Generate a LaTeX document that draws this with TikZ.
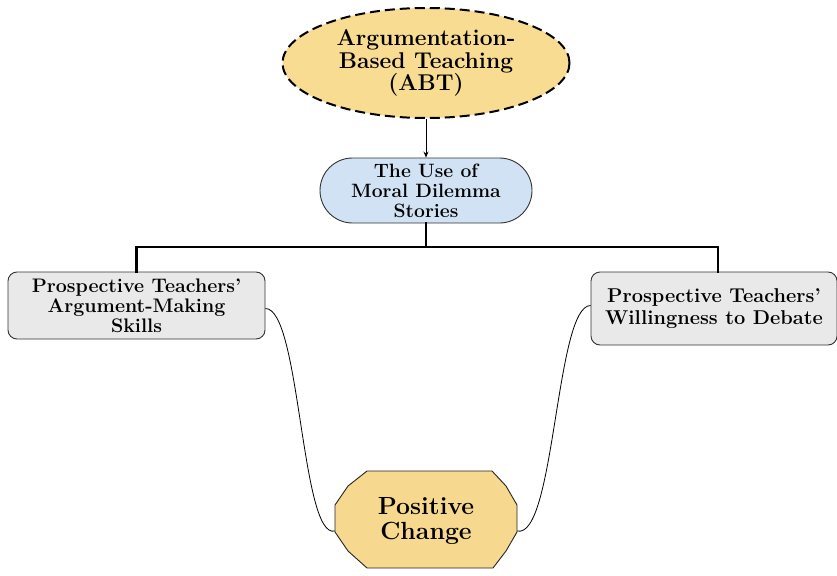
\documentclass[tikz,border=0pt]{standalone}
\usepackage{fontspec}
\usetikzlibrary{shapes.geometric,shapes.misc,arrows.meta}
\definecolor{abtfill}{HTML}{F8DC92}
\definecolor{pcfill}{HTML}{F6D88E}
\definecolor{pillfill}{HTML}{D0E2F3}
\definecolor{boxfill}{HTML}{E9E9E9}
\tikzset{
  txt/.style={align=center,text=black,inner sep=0pt},
  greybox/.style={rectangle,rounded corners=9pt,draw=black!80,line width=0.9pt,fill=boxfill,txt},
  trunk/.style={line width=2.6pt,line cap=rect},
  thin/.style={line width=0.8pt}
}
\begin{document}
\begin{tikzpicture}[x=1pt,y=-1pt]
\useasboundingbox[fill=white] (0,0) rectangle (837,575);
\node[ellipse,draw=black,fill=abtfill,line width=2pt,dash pattern=on 10pt off 5pt,
  minimum width=287pt,minimum height=110pt,txt,
  font=\fontsize{22.8}{22.5}\selectfont\bfseries] (abt) at (426,63)
  {Argumentation-\\Based Teaching\\(ABT)};
\node[rounded rectangle,draw=black!80,line width=0.9pt,fill=pillfill,
  minimum width=212pt,minimum height=65pt,txt,
  font=\fontsize{19.3}{20}\selectfont\bfseries] (moral) at (426,190.5)
  {The Use of\\Moral Dilemma\\Stories};
\node[greybox,minimum width=257pt,minimum height=67pt,
  font=\fontsize{19.6}{20}\selectfont\bfseries] (left) at (136.5,305.5)
  {Prospective Teachers'\\Argument-Making\\Skills};
\node[greybox,minimum width=246pt,minimum height=73pt,
  font=\fontsize{20}{22}\selectfont\bfseries] (right) at (714,308.5)
  {Prospective Teachers'\\Willingness to Debate};
\filldraw[draw=black!85,fill=pcfill,line width=0.9pt]
  (367,471) -- (492,471) -- (506,486) -- (517,505) -- (517,532) -- (506,551) -- (493,568)
  -- (367,568) -- (348,551) -- (335,532) -- (335,505) -- (348,486) -- cycle;
\node[txt,minimum width=182pt,minimum height=97pt,
  font=\fontsize{24.8}{25}\selectfont\bfseries] (pc) at (426,521)
  {Positive\\Change};
\coordinate (pl) at (335,531);
\coordinate (pr) at (517,531);
\draw[thin,-{Stealth[length=6pt,width=5pt]}] (abt.south) -- (moral.north);
\coordinate (bar) at (426,247);
\draw[trunk] (moral.south) -- (bar);
\draw[trunk] (left.north) |- (bar) -| ([xshift=4pt]right.north);
\draw[thin] ([yshift=-3pt]left.east) .. controls +(35,0) and +(-34,9) .. (pl);
\draw[thin] ([yshift=3pt]right.west) .. controls +(-35,0) and +(38,9) .. (pr);
\end{tikzpicture}
\end{document}
